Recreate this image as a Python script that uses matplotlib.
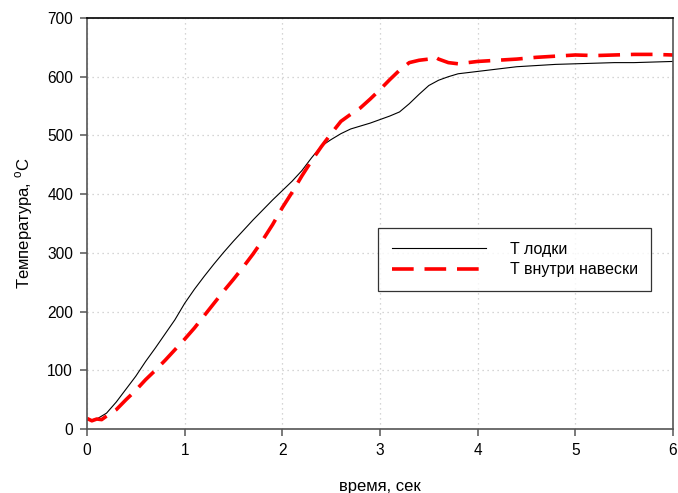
import matplotlib

matplotlib.use("Agg")
import matplotlib.pyplot as plt

# time, s and temperatures
t_boat = [0.0, 0.1, 0.2, 0.3, 0.4, 0.5, 0.6, 0.7, 0.8, 0.9,
          1.0, 1.1, 1.2, 1.3, 1.4, 1.5, 1.6, 1.7, 1.8, 1.9,
          2.0, 2.1, 2.2, 2.3, 2.4, 2.5, 2.6, 2.7, 2.8, 2.9,
          3.0, 3.1, 3.2, 3.3, 3.4, 3.5, 3.6, 3.7, 3.8, 3.9,
          4.0, 4.2, 4.4, 4.6, 4.8, 5.0, 5.2, 5.4, 5.6, 5.8, 6.0]
temp_boat = [15, 17, 27, 46, 68, 90, 115, 138, 162, 186,
             214, 238, 260, 281, 301, 320, 338, 356, 373, 390,
             406, 422, 440, 462, 482, 493, 503, 511, 516, 521,
             527, 533, 540, 554, 570, 585, 594, 600, 605, 607,
             609, 613, 617, 619, 621, 622, 623, 624, 624, 625, 626]

t_sample = [0.0, 0.05, 0.1, 0.15, 0.2, 0.3, 0.4, 0.5, 0.6, 0.7, 0.8, 0.9,
            1.0, 1.1, 1.2, 1.3, 1.4, 1.5, 1.6, 1.7, 1.8, 1.9,
            2.0, 2.1, 2.2, 2.3, 2.4, 2.5, 2.6, 2.7, 2.8, 2.9,
            3.0, 3.1, 3.2, 3.3, 3.4, 3.5, 3.55, 3.6, 3.7, 3.8, 3.9,
            4.0, 4.2, 4.4, 4.6, 4.8, 5.0, 5.2, 5.4, 5.6, 5.8, 6.0]
temp_sample = [18, 14, 17, 16, 22, 33, 50, 66, 84, 100, 117, 135,
               153, 172, 193, 214, 235, 255, 276, 298, 322, 348,
               377, 403, 431, 457, 481, 503, 524, 536, 547, 562,
               578, 595, 611, 624, 628, 630, 635, 630, 624, 622, 624,
               626, 628, 630, 633, 635, 637, 636, 637, 638, 638, 637]

x_ticks = [0, 1, 2, 3, 4, 5, 6]
y_ticks = [0, 100, 200, 300, 400, 500, 600, 700]

plt.rcParams["font.family"] = ["Liberation Sans", "DejaVu Sans"]

fig = plt.figure(figsize=(6.78, 4.93), dpi=100)
ax = fig.add_axes([0.1283, 0.1298, 0.8643, 0.8337])

ax.plot(t_boat, temp_boat, color="black", lw=0.8, label="T лодки")
ax.plot(t_sample, temp_sample, color="#ff0000", lw=2.6,
        linestyle=(0, (6, 3)), label="T внутри навески")

ax.set_xlim(0, 6)
ax.set_ylim(0, 700)
ax.set_xticks(x_ticks)
ax.set_yticks(y_ticks)
ax.grid(color="#c8c8c8", linestyle=(0, (1, 3)), lw=0.9)
ax.set_axisbelow(True)

for side in ("left", "bottom", "right"):
    ax.spines[side].set_color("#555555")
    ax.spines[side].set_linewidth(1.2)
ax.spines["top"].set_color("black")
ax.spines["top"].set_linewidth(1.2)
ax.tick_params(direction="out", length=5, width=1.1, color="#555555",
               labelsize=11.2, pad=5)

ax.set_xlabel("время, сек", fontsize=12, labelpad=15)
ax.set_ylabel("Температура, $^\\mathregular{o}$C", fontsize=12, labelpad=9)

leg = ax.legend(loc="upper left", bbox_to_anchor=(0.4966, 0.489),
                borderaxespad=0, fontsize=11.5, frameon=True, fancybox=False,
                edgecolor="black", handlelength=5.9, handletextpad=1.5,
                borderpad=0.85, labelspacing=0.35)
leg.get_frame().set_linewidth(0.9)

fig.savefig("out.png", dpi=100)
